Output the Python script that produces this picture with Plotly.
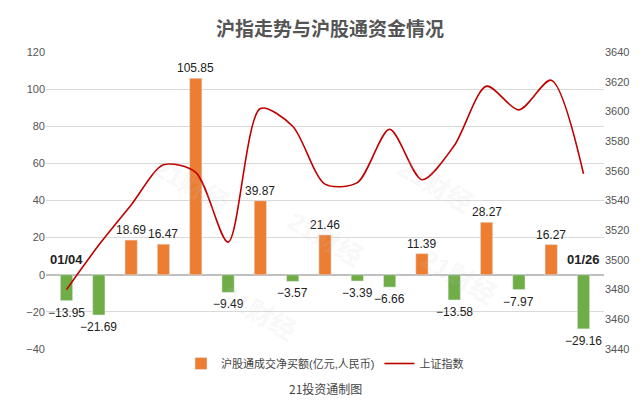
import plotly.graph_objects as go

dates = ["01/04","01/05","01/06","01/07","01/08","01/11","01/12","01/13","01/14","01/15","01/18","01/19","01/20","01/21","01/22","01/25","01/26"]
flow = [-13.95,-21.69,18.69,16.47,105.85,-9.49,39.87,-3.57,21.46,-3.39,-6.66,11.39,-13.58,28.27,-7.97,16.27,-29.16]
index = [3480,3510,3537,3564,3559,3512,3602,3590,3551,3552,3588,3554,3577,3617,3601,3621,3558]

colors = ["#ED7D31" if v >= 0 else "#70AD47" for v in flow]
fig = go.Figure()
fig.add_trace(go.Bar(x=dates, y=flow, marker_color=colors, width=0.38, showlegend=False))
fig.add_trace(go.Bar(x=[None], y=[None], marker_color="#ED7D31", name="沪股通成交净买额(亿元,人民币)"))
fig.add_trace(go.Scatter(x=dates, y=index, mode="lines", yaxis="y2",
                         line=dict(color="#C00000", width=1.6, shape="spline", smoothing=0.8),
                         name="上证指数"))
for d, v in zip(dates, flow):
    fig.add_annotation(x=d, y=v, text=f"{v:.2f}".replace("-", "−"), showarrow=False,
                       yshift=10 if v >= 0 else -12, font=dict(size=12, color="#222"))
fig.update_layout(
    width=644, height=419, paper_bgcolor="white", plot_bgcolor="white",
    margin=dict(l=38, r=48, t=44, b=78),
    title=dict(text="<b>沪指走势与沪股通资金情况</b>", x=0.5, y=0.965, xanchor="center",
               font=dict(size=19, color="#555", family="Noto Sans CJK SC")),
    font=dict(family="Liberation Sans, Noto Sans CJK SC", size=11, color="#555"),
    xaxis=dict(showticklabels=False, showgrid=False, zeroline=False, showline=False),
    yaxis=dict(range=[-40,120], dtick=20, gridcolor="#d9d9d9", zeroline=True,
               zerolinecolor="#bfbfbf", tickfont=dict(size=11, color="#555")),
    yaxis2=dict(range=[3440,3640], dtick=20, overlaying="y", side="right",
                showgrid=False, tickfont=dict(size=11, color="#555")),
    legend=dict(orientation="h", x=0.5, xanchor="center", y=-0.0, yanchor="top",
                font=dict(size=11, color="#444")),
    bargap=0.5, showlegend=True,
)
fig.add_annotation(x="01/04", y=8, text="<b>01/04</b>", showarrow=False, font=dict(size=13, color="#222"))
fig.add_annotation(x="01/26", y=8, text="<b>01/26</b>", showarrow=False, font=dict(size=13, color="#222"))
fig.add_annotation(x=0.5, y=-0.17, xref="paper", yref="paper", text="21投资通制图", showarrow=False,
                   font=dict(size=12, color="#444", family="Noto Sans CJK SC"))
for xx, yy in [(0.18,0.55),(0.5,0.25),(0.78,0.55),(0.82,0.12),(0.38,0.0)]:
    fig.add_annotation(x=xx, y=yy, xref="paper", yref="paper", text="<b>21财经</b>", showarrow=False,
                       textangle=30, font=dict(size=26, color="rgba(200,200,200,0.15)"))
fig.write_html("out.html")
